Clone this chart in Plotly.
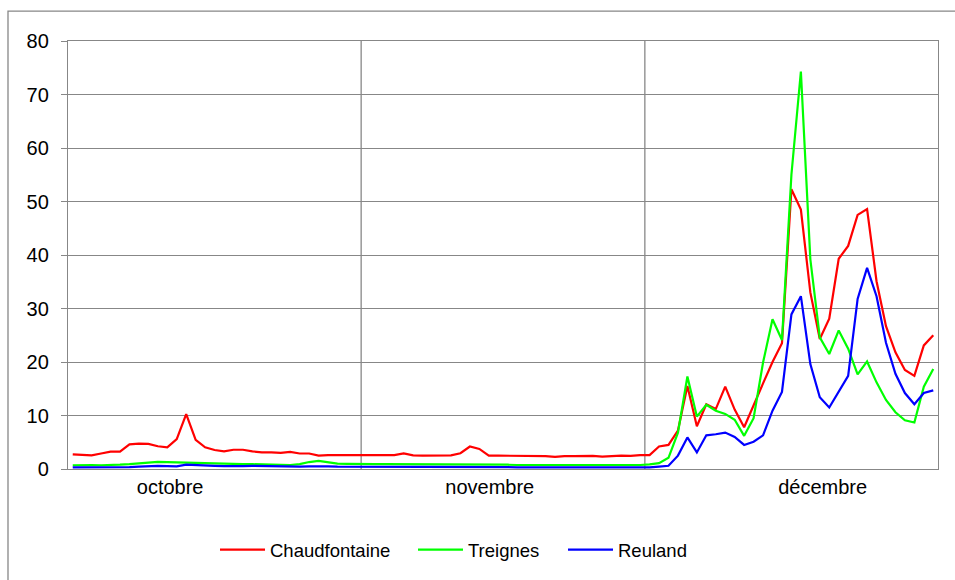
import plotly.graph_objects as go

# ---- data (daily values, 1 Oct - 31 Dec) ----
chaudfontaine_oct = [2.75, 2.6, 2.55, 2.9, 3.25, 3.25, 4.6, 4.75, 4.7, 4.25, 4.05, 5.6, 10.25, 5.45,
                     4.05, 3.55, 3.3, 3.6, 3.6, 3.3, 3.1, 3.1, 3.0, 3.2, 2.9, 2.9, 2.5, 2.6, 2.6, 2.55, 2.55]
chaudfontaine_nov = [2.6, 2.6, 2.6, 2.6, 2.9, 2.55, 2.5, 2.55, 2.55, 2.55, 2.95, 4.2, 3.75, 2.5, 2.5,
                     2.5, 2.5, 2.5, 2.45, 2.4, 2.25, 2.4, 2.4, 2.4, 2.45, 2.3, 2.45, 2.5, 2.45, 2.6]
chaudfontaine_dec = [2.6, 4.2, 4.5, 7.2, 15.5, 8.0, 12.1, 11.2, 15.4, 11.1, 7.8, 12.0, 16.0, 20.0, 23.5,
                     52.3, 48.5, 33.0, 24.3, 28.1, 39.3, 41.7, 47.5, 48.6, 35.1, 26.7, 21.8, 18.5, 17.4, 23.1, 25.0]

treignes_oct = [0.7, 0.75, 0.75, 0.7, 0.7, 0.8, 0.9, 1.0, 1.2, 1.35, 1.3, 1.15, 1.1, 1.05, 1.0, 1.0,
                0.95, 0.95, 0.9, 0.9, 0.85, 0.8, 0.8, 0.75, 0.9, 1.3, 1.5, 1.2, 1.0, 0.95, 0.9]
treignes_nov = [0.9, 0.9, 0.9, 0.9, 0.85, 0.85, 0.85, 0.85, 0.8, 0.8, 0.8, 0.85, 0.85, 0.8, 0.8,
                0.8, 0.75, 0.75, 0.75, 0.75, 0.7, 0.7, 0.7, 0.7, 0.7, 0.7, 0.7, 0.7, 0.7, 0.75]
treignes_dec = [0.85, 1.1, 2.1, 6.8, 17.3, 9.8, 12.0, 10.9, 10.3, 9.2, 6.2, 9.5, 19.9, 28.0, 24.1,
                55.0, 74.3, 39.2, 24.6, 21.5, 25.9, 22.5, 17.7, 20.1, 16.2, 12.9, 10.6, 9.1, 8.7, 15.4, 18.7]

reuland_oct = [0.3, 0.3, 0.3, 0.3, 0.3, 0.3, 0.35, 0.45, 0.55, 0.6, 0.55, 0.5, 0.8, 0.7, 0.65, 0.6,
               0.55, 0.5, 0.55, 0.6, 0.55, 0.5, 0.45, 0.45, 0.45, 0.5, 0.55, 0.5, 0.45, 0.45, 0.45]
reuland_nov = [0.4, 0.4, 0.4, 0.4, 0.4, 0.4, 0.35, 0.35, 0.35, 0.35, 0.35, 0.35, 0.35, 0.35, 0.35,
               0.35, 0.3, 0.3, 0.3, 0.3, 0.3, 0.3, 0.3, 0.3, 0.3, 0.3, 0.3, 0.3, 0.3, 0.3]
reuland_dec = [0.3, 0.45, 0.6, 2.5, 5.9, 3.1, 6.3, 6.5, 6.8, 6.0, 4.5, 5.1, 6.3, 10.9, 14.4,
               28.9, 32.3, 19.6, 13.4, 11.5, 14.4, 17.4, 31.8, 37.6, 32.3, 23.6, 17.8, 14.2, 12.1, 14.2, 14.7]

month_labels = ["octobre", "novembre", "décembre"]
month_label_pos = [10.3, 44.1, 79.3]  # label anchor (day index)
month_lengths = [31, 30, 31]

series = [
    ("Chaudfontaine", chaudfontaine_oct + chaudfontaine_nov + chaudfontaine_dec, "#FF0000"),
    ("Treignes", treignes_oct + treignes_nov + treignes_dec, "#00FF00"),
    ("Reuland", reuland_oct + reuland_nov + reuland_dec, "#0000FF"),
]

n_days = sum(month_lengths)
days = list(range(n_days))

GRID = "#878787"
FONT = "Liberation Sans, Arial, sans-serif"

L_M, R_M, T_M, B_M = 68, 17, 41, 110
W, H = 955, 580
pw, ph = W - L_M - R_M, H - T_M - B_M

legend_ids = ["legend", "legend2", "legend3"]
legend_left_px = [215, 413, 563]

fig = go.Figure()
for (name, vals, color), lid in zip(series, legend_ids):
    fig.add_trace(go.Scatter(x=days, y=vals, mode="lines", name=name, legend=lid,
                             line=dict(color=color, width=2.2)))

# month boundary gridlines
shapes = []
acc = 0
for L in month_lengths[:-1]:
    acc += L
    shapes.append(dict(type="line", xref="x", yref="y", x0=acc - 0.5, x1=acc - 0.5, y0=0, y1=80,
                       line=dict(color=GRID, width=1.3), layer="below"))
# outer chart frame (cropped at right/bottom)
shapes.append(dict(type="rect", xref="paper", yref="paper",
                   x0=(8 - L_M) / pw, x1=(W + 10 - L_M) / pw,
                   y0=-(H + 10 - (H - B_M)) / ph, y1=1 + (T_M - 11) / ph,
                   line=dict(color=GRID, width=1.3), fillcolor="rgba(0,0,0,0)"))

legend_layouts = {}
for lid, px in zip(legend_ids, legend_left_px):
    legend_layouts[lid] = dict(orientation="h", x=(px - L_M) / pw, xanchor="left",
                               y=-(550 - (H - B_M)) / ph, yanchor="middle",
                               font=dict(size=18.5), itemwidth=45,
                               bgcolor="rgba(0,0,0,0)")

fig.update_layout(
    width=W, height=H,
    margin=dict(l=L_M, r=R_M, t=T_M, b=B_M),
    paper_bgcolor="white", plot_bgcolor="white",
    font=dict(family=FONT, size=20, color="black"),
    shapes=shapes,
    showlegend=True,
    xaxis=dict(range=[-0.5, n_days - 0.5], tickmode="array", tickvals=month_label_pos,
               ticktext=month_labels, ticks="", showgrid=False, zeroline=False,
               showline=True, linecolor=GRID, linewidth=1.3, mirror=True,
               tickfont=dict(size=20)),
    yaxis=dict(range=[0, 80], dtick=10, ticks="outside", ticklen=6, tickcolor=GRID, tickwidth=1.3,
               showgrid=True, gridcolor=GRID, gridwidth=1.3, zeroline=False,
               showline=True, linecolor=GRID, linewidth=1.3, mirror=True,
               tickfont=dict(size=20), ticklabelstandoff=8),
    **legend_layouts,
)

fig.write_html("out.html", config={"displayModeBar": False},
               post_script="document.body.style.margin='0';document.body.style.overflow='hidden';")
